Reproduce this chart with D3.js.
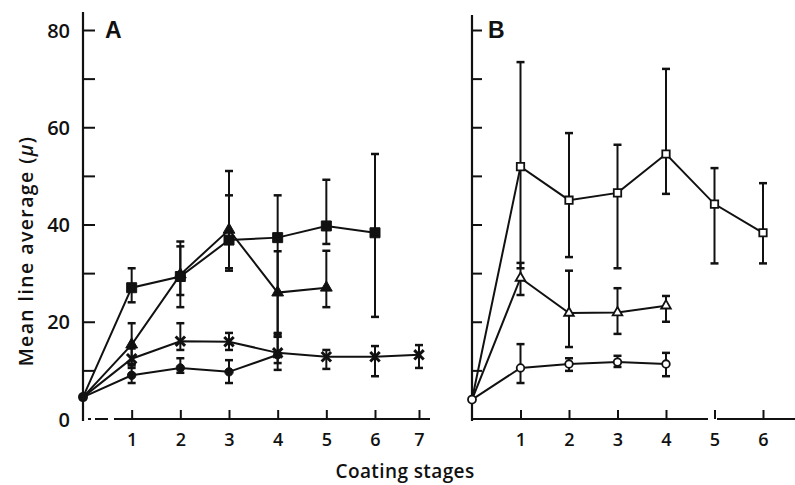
<!DOCTYPE html>
<html>
<head>
<meta charset="utf-8">
<script src="https://cdn.jsdelivr.net/npm/d3@7"></script>
<style>
  body { margin: 0; background: #fff; }
  svg text { font-family: "Open Sans", "DejaVu Sans", sans-serif; fill: #111; }
</style>
</head>
<body>
<div class="chart"></div>
<script>
// Data
const yTicks = [10, 20, 30, 40, 50, 60, 70, 80];
const yLabels = [0, 20, 40, 60, 80];
const stagesA = [1, 2, 3, 4, 5, 6, 7];
const stagesB = [1, 2, 3, 4, 5, 6];

// Panel A
const squareA_x = [0, 1, 2, 3, 4, 5, 6];
const squareA_mean = [4.5, 27, 29.3, 36.8, 37.3, 39.7, 38.3];
const squareA_lo = [null, 24, 23, 30.5, 17.5, 36, 21];
const squareA_hi = [null, 31, 36.5, 46, 46, 49.2, 54.5];

const triangleA_x = [0, 1, 2, 3, 4, 5];
const triangleA_mean = [4.5, 15.3, 29.7, 38.9, 26, 27];
const triangleA_lo = [null, 11, 25.5, 31, 17, 23];
const triangleA_hi = [null, 19.7, 35.5, 51, 34.5, 34.6];

const crossA_x = [0, 1, 2, 3, 4, 5, 6, 7];
const crossA_mean = [4.5, 12.4, 16, 15.9, 13.6, 12.8, 12.8, 13.2];
const crossA_lo = [null, 10.5, 14.2, 14.2, 11.5, 10.3, 8.8, 10.5];
const crossA_hi = [null, 14.5, 19.7, 17.7, 17.7, 14.2, 15, 15.2];

const circleA_x = [0, 1, 2, 3, 4];
const circleA_mean = [4.5, 9, 10.5, 9.7, 13.2];
const circleA_lo = [null, 7.4, 9.5, 7.4, 10.1];
const circleA_hi = [null, 11.3, 12.5, 12.1, 16.9];

// Panel B
const squareB_x = [0, 1, 2, 3, 4, 5, 6];
const squareB_mean = [4, 51.9, 45, 46.5, 54.5, 44.2, 38.3];
const squareB_lo = [null, 31, 33.3, 31, 46.3, 32, 32];
const squareB_hi = [null, 73.4, 58.8, 56.4, 72, 51.6, 48.5];

const triangleB_x = [0, 1, 2, 3, 4];
const triangleB_mean = [4, 29, 21.8, 21.9, 23.3];
const triangleB_lo = [null, 25.5, 14.8, 17.5, 20];
const triangleB_hi = [null, 32.1, 30.5, 26.9, 25.3];

const circleB_x = [0, 1, 2, 3, 4];
const circleB_mean = [4, 10.5, 11.3, 11.7, 11.3];
const circleB_lo = [null, 7.4, 9.9, 10.7, 8.8];
const circleB_hi = [null, 15.4, 12.5, 13, 13.6];

// Layout
const W = 795, H = 485;
const svg = d3.select(".chart").append("svg")
    .attr("width", W).attr("height", H);

const y = d3.scaleLinear().domain([0, 80]).range([419, 30]);
// the scanned x axis of panel A is slightly squeezed near stage 7
const xA = d3.scaleLinear().domain([0, 6, 7]).range([83, 375, 419]);
const xB = d3.scaleLinear().domain([0, 6]).range([472, 763]);

function series(xs, mean, lo, hi) {
    return xs.map((d, i) => ({ x: d, m: mean[i], lo: lo[i], hi: hi[i] }));
}

const line = (x) => d3.line().x(d => x(d.x)).y(d => y(d.m));

function drawSeries(g, x, data, symbol, size, filled, sw) {
    g.append("path")
        .datum(data)
        .attr("d", line(x))
        .attr("fill", "none")
        .attr("stroke", "#111")
        .attr("stroke-width", 2);

    const err = data.filter(d => d.lo != null);
    g.selectAll(null).data(err).enter().append("line")
        .attr("x1", d => x(d.x)).attr("x2", d => x(d.x))
        .attr("y1", d => y(d.lo)).attr("y2", d => y(d.hi))
        .attr("stroke", "#111").attr("stroke-width", 2);
    ["lo", "hi"].forEach(k => {
        g.selectAll(null).data(err).enter().append("line")
            .attr("x1", d => x(d.x) - 4).attr("x2", d => x(d.x) + 4)
            .attr("y1", d => y(d[k])).attr("y2", d => y(d[k]))
            .attr("stroke", "#111").attr("stroke-width", 2.5);
    });

    g.selectAll(null).data(data.slice(1)).enter().append("path")
        .attr("transform", d => "translate(" + x(d.x) + "," + y(d.m) + ")")
        .attr("d", d3.symbol().type(symbol).size(size))
        .attr("fill", filled ? "#111" : "#fff")
        .attr("stroke", "#111")
        .attr("stroke-width", sw);
}

// Axes
function yAxis(x0, top, labels) {
    const g = svg.append("g").attr("transform", "translate(" + x0 + ",0)");
    g.call(d3.axisLeft(y).tickValues(yTicks).tickSizeInner(labels ? -12 : -10)
            .tickSizeOuter(0).tickFormat(""))
        .call(a => a.select(".domain").remove());
    g.selectAll(".tick line").attr("stroke", "#111").attr("stroke-width", 2);
    g.append("line").attr("x1", 0).attr("x2", 0).attr("y1", top).attr("y2", 421)
        .attr("stroke", "#111").attr("stroke-width", 2.2);
    if (labels) {
        const l = svg.append("g").attr("transform", "translate(" + (x0 - 13) + ",0)");
        l.call(d3.axisLeft(y).tickValues(yLabels).tickSize(0).tickPadding(0))
            .call(a => a.select(".domain").remove());
        l.selectAll("text").style("font-size", "20px").style("font-weight", 600)
            .attr("dy", "0.36em");
    }
}

function xAxis(x, ticks, segments) {
    const g = svg.append("g").attr("transform", "translate(0,419)");
    g.call(d3.axisBottom(x).tickValues(ticks).tickFormat(d3.format("d"))
            .tickSizeInner(-9).tickSizeOuter(0).tickPadding(14))
        .call(a => a.select(".domain").remove());
    g.selectAll(".tick line").attr("stroke", "#111").attr("stroke-width", 2);
    g.selectAll(".tick text").style("font-size", "18px").style("font-weight", 600);
    segments.forEach(s => {
        g.append("line").attr("x1", s[0]).attr("x2", s[1]).attr("y1", 0).attr("y2", 0)
            .attr("stroke", "#111").attr("stroke-width", 2);
    });
}

yAxis(83, 12, true);
yAxis(472, 15, false);
xAxis(xA, stagesA, [[88, 91], [95, 108], [114, 430]]);
xAxis(xB, stagesB, [[472, 708], [717, 795]]);

// Panel A series
const gA = svg.append("g");
drawSeries(gA, xA, series(circleA_x, circleA_mean, circleA_lo, circleA_hi), d3.symbolCircle, 55, true, 1);
drawSeries(gA, xA, series(crossA_x, crossA_mean, crossA_lo, crossA_hi), d3.symbolTimes, 60, true, 3);
drawSeries(gA, xA, series(triangleA_x, triangleA_mean, triangleA_lo, triangleA_hi), d3.symbolTriangle, 60, true, 1);
drawSeries(gA, xA, series(squareA_x, squareA_mean, squareA_lo, squareA_hi), d3.symbolSquare, 100, true, 1);
gA.append("circle").attr("cx", xA(0)).attr("cy", y(4.5)).attr("r", 5).attr("fill", "#111");

// Panel B series
const gB = svg.append("g");
drawSeries(gB, xB, series(circleB_x, circleB_mean, circleB_lo, circleB_hi), d3.symbolCircle, 45, false, 1.8);
drawSeries(gB, xB, series(triangleB_x, triangleB_mean, triangleB_lo, triangleB_hi), d3.symbolTriangle, 40, false, 1.8);
drawSeries(gB, xB, series(squareB_x, squareB_mean, squareB_lo, squareB_hi), d3.symbolSquare, 55, false, 1.8);
gB.append("circle").attr("cx", xB(0)).attr("cy", y(4)).attr("r", 4).attr("fill", "#fff")
    .attr("stroke", "#111").attr("stroke-width", 1.8);

// Panel letters and titles
svg.append("text").attr("x", 105).attr("y", 38).text("A")
    .style("font-size", "23px").style("font-weight", 700).style("font-family", "Liberation Sans, Arial, sans-serif");
svg.append("text").attr("x", 488).attr("y", 38).text("B")
    .style("font-size", "23px").style("font-weight", 700).style("font-family", "Liberation Sans, Arial, sans-serif");

svg.append("text").attr("x", 405).attr("y", 478).attr("text-anchor", "middle")
    .style("font-size", "19px").style("font-weight", 600).style("letter-spacing", "0.4px")
    .text("Coating stages");

const yt = svg.append("text").attr("transform", "translate(33,251) rotate(-90)")
    .attr("text-anchor", "middle").style("font-size", "19.5px").style("font-weight", 600)
    .style("letter-spacing", "1.4px");
yt.append("tspan").text("Mean line average (");
yt.append("tspan").style("font-style", "italic").text("μ");
yt.append("tspan").text(")");
</script>
</body>
</html>
